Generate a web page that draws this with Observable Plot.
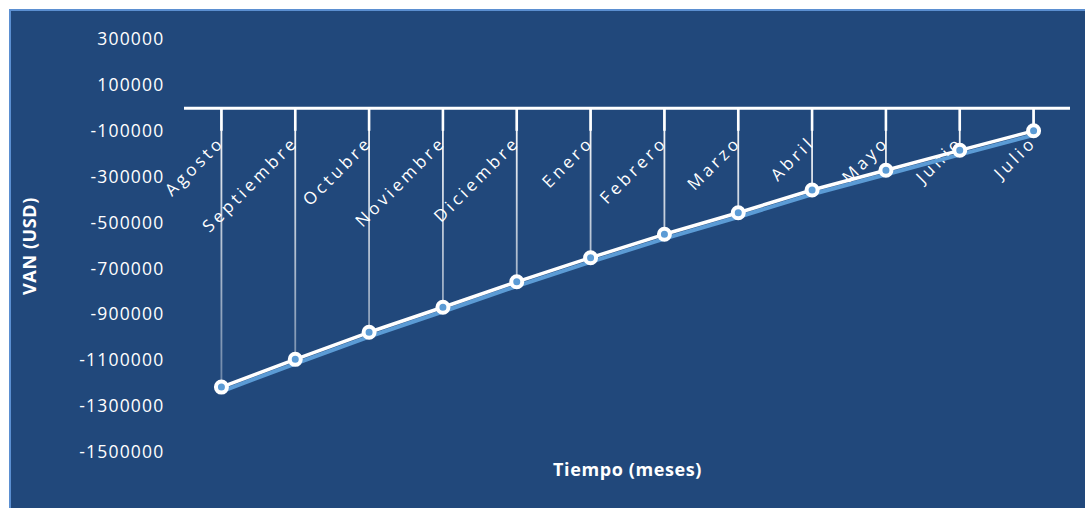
<!DOCTYPE html>
<html>
<head>
<meta charset="utf-8">
<script src="https://cdn.jsdelivr.net/npm/d3@7"></script>
<script src="https://cdn.jsdelivr.net/npm/@observablehq/plot@0.6"></script>
<style>
  html, body { margin: 0; padding: 0; background: #ffffff; }
  #wrap { position: relative; width: 1085px; height: 508px; overflow: hidden; }
  #panel {
    position: absolute; left: 9px; top: 9px; width: 1100px; height: 520px;
    background: #21487b; border-top: 2px solid #5b8fd1; border-left: 2px solid #5b8fd1;
  }
  #chart { position: absolute; left: 0; top: 0; }
</style>
</head>
<body>
<div id="wrap">
  <div id="panel"></div>
  <div id="chart"></div>
</div>
<script>
// Net present value (USD) by month
const months = ["Agosto", "Septiembre", "Octubre", "Noviembre", "Diciembre", "Enero",
                "Febrero", "Marzo", "Abril", "Mayo", "Junio", "Julio"];
const van = [-1215000, -1094000, -976000, -867000, -756000, -651000,
             -549000, -455000, -356000, -270000, -183000, -98000];
const yTicks = [300000, 100000, -100000, -300000, -500000, -700000,
                -900000, -1100000, -1300000, -1500000];

const data = months.map((m, i) => ({month: m, value: van[i]}));

const font = "'Open Sans', sans-serif";

const plot = Plot.plot({
  width: 1085,
  height: 508,
  marginTop: 39,
  marginBottom: 56,
  marginLeft: 184,
  marginRight: 15,
  style: {background: "transparent", color: "#ffffff", fontFamily: font},
  x: {type: "point", domain: months, padding: 0.5, round: false, axis: null},
  y: {domain: [-1500000, 300000], axis: null},
  marks: [
    // y axis labels
    Plot.axisY({
      ticks: yTicks, tickSize: 0, tickPadding: 20,
      tickFormat: d => String(d), label: null,
      fontSize: 17.5, fill: "#ffffff"
    }),
    // drop lines from the category axis down to each point
    Plot.ruleX(data, {x: "month", y1: 0, y2: "value", stroke: "url(#dropFade)", strokeWidth: 1.8}),
    // tick marks below the category axis
    Plot.ruleX(data, {x: "month", y1: 0, y2: -100000, stroke: "#ffffff", strokeWidth: 2.6}),
    // category axis at zero
    Plot.ruleY([0], {stroke: "#ffffff", strokeWidth: 3}),
    // category labels
    Plot.text(data, {
      x: "month", y: -145000, text: "month", rotate: -45,
      textAnchor: "end", lineAnchor: "bottom", dx: 4, dy: 2,
      fill: "#ffffff", fontSize: 17, fontFamily: font
    }),
    // shadow under the line
    Plot.line(data, {x: "month", y: "value", stroke: "#5b9bd5", strokeWidth: 4, dx: 1, dy: 4}),
    Plot.line(data, {x: "month", y: "value", stroke: "#ffffff", strokeWidth: 3.5}),
    Plot.dot(data, {x: "month", y: "value", r: 5.5, fill: "#5b9bd5", stroke: "#ffffff", strokeWidth: 4}),
    // axis titles
    Plot.text(["VAN (USD)"], {
      frameAnchor: "left", textAnchor: "middle", dx: -154, dy: 0, rotate: -90, text: d => d,
      fontWeight: "bold", fontSize: 18, fill: "#ffffff", fontFamily: font
    }),
    Plot.text(["Tiempo (meses)"], {
      frameAnchor: "bottom", dx: 0, dy: 23, text: d => d,
      fontWeight: "bold", fontSize: 18, fill: "#ffffff", fontFamily: font
    })
  ]
});

// gradient for the drop lines, in user space so vertical rules can use it
const ns = "http://www.w3.org/2000/svg";
const defs = document.createElementNS(ns, "defs");
const grad = document.createElementNS(ns, "linearGradient");
grad.setAttribute("id", "dropFade");
grad.setAttribute("gradientUnits", "userSpaceOnUse");
grad.setAttribute("x1", "0"); grad.setAttribute("x2", "0");
grad.setAttribute("y1", "107"); grad.setAttribute("y2", "400");
[[0, 1], [1, 0.3]].forEach(([o, a]) => {
  const s = document.createElementNS(ns, "stop");
  s.setAttribute("offset", o);
  s.setAttribute("stop-color", "#ffffff");
  s.setAttribute("stop-opacity", a);
  grad.appendChild(s);
});
defs.appendChild(grad);
plot.insertBefore(defs, plot.firstChild);

// spread the letters like the original labels
plot.querySelectorAll("g[aria-label='text'] text").forEach(t => {
  if (months.includes(t.textContent)) t.setAttribute("letter-spacing", "3.5");
  if (t.textContent === "Tiempo (meses)" || t.textContent === "VAN (USD)") t.setAttribute("letter-spacing", "0.6");
});
plot.querySelectorAll("g[aria-label='y-axis tick label'] text").forEach(t => t.setAttribute("letter-spacing", "1.2"));

document.getElementById("chart").appendChild(plot);
</script>
</body>
</html>
